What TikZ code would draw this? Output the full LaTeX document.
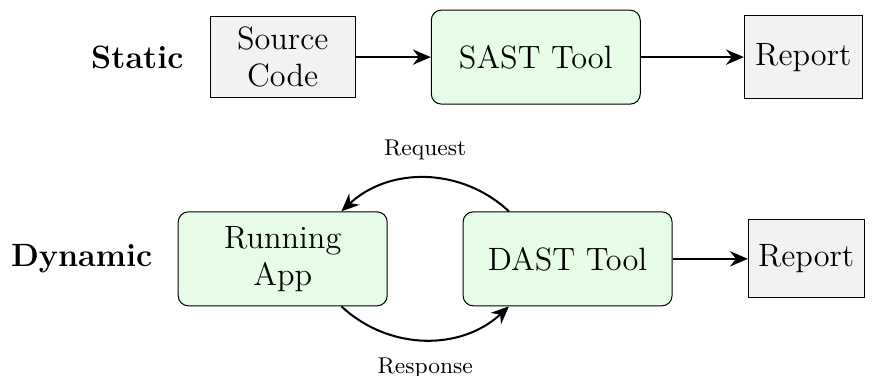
\documentclass[tikz,border=0pt]{standalone}
\usepackage{amsmath}
\usepackage{xcolor}
\usepackage{tikz}
\usetikzlibrary{positioning, arrows.meta}

\definecolor{toolgreen}{HTML}{E6FCE6}
\definecolor{docgray}{HTML}{F2F2F2}
\newcommand{\boxfont}{\fontsize{12.7}{14.6}\selectfont}

\begin{document}
\begin{tikzpicture}[
        doc/.style={draw, fill=docgray, font=\boxfont, align=center, minimum width=2.0cm, minimum height=1.13cm, inner sep=2pt},
        tool/.style={draw, fill=toolgreen, rounded corners=0.14cm, font=\boxfont, align=center, minimum width=2.89cm, minimum height=1.3cm},
        flow/.style={-{Stealth[length=7pt, width=6pt]}, thick},
        lbl/.style={font=\boxfont\bfseries}
    ]
            \useasboundingbox (0, 0) rectangle (12.24, -5.20);
            % static row
            \node[doc] (src) at (3.91, -0.79) {Source\\Code};
            \node[tool] (sast) at (7.41, -0.79) {SAST Tool};
            \node[doc, minimum width=1.63cm, minimum height=1.15cm] (srep) at (11.11, -0.79) {Report};
            \node[lbl] (static) at (1.90, -0.80) {Static};
            \draw[flow] (src) -- (sast);
            \draw[flow] (sast) -- (srep);
            % dynamic row
            \node[tool] (app) at (3.91, -3.58) {Running\\App};
            \node[tool] (dast) at (7.85, -3.58) {DAST Tool};
            \node[doc, minimum width=1.60cm, minimum height=1.08cm] (drep) at (11.15, -3.58) {Report};
            \node[lbl] (dynamic) at (1.13, -3.58) {Dynamic};
            \draw[flow] (dast) -- (drep);
            \draw[flow] (dast.141) to[bend right=43] node[midway, above=0.12cm, font=\small] (req) {Request} (app.39);
            \draw[flow] (app.-39) to[bend right=43] node[midway, below=0.12cm, font=\small] (resp) {Response} (dast.-141);
        \end{tikzpicture}
\end{document}
